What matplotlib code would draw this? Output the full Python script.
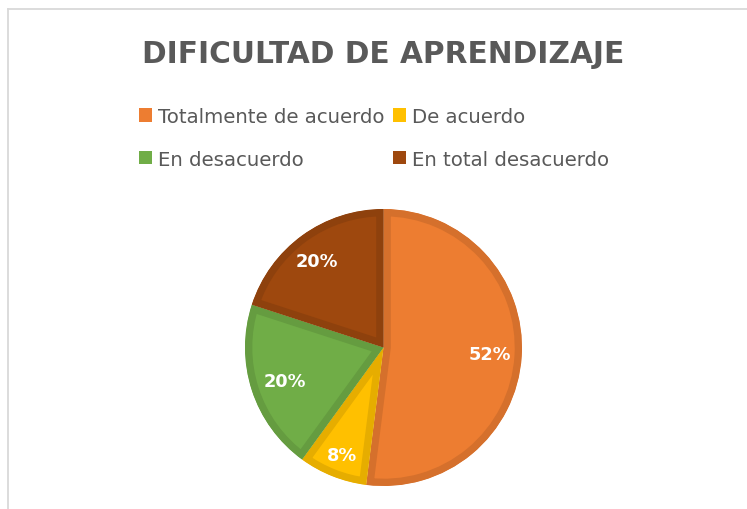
import matplotlib
matplotlib.use("Agg")
import matplotlib.pyplot as plt
from matplotlib.patches import Patch
from matplotlib.lines import Line2D
import numpy as np

title = "DIFICULTAD DE APRENDIZAJE"
categories = ["Totalmente de acuerdo", "De acuerdo", "En desacuerdo", "En total desacuerdo"]
values = [52, 8, 20, 20]
colors = ["#ED7D31", "#FFC000", "#70AD47", "#9E480E"]
edge_colors = ["#D5702C", "#E6AD00", "#659C40", "#8E410D"]

plt.rcParams['font.family'] = ['DejaVu Sans']

W, H = 747, 510
fig = plt.figure(figsize=(W / 100, H / 100), dpi=100)
fig.patch.set_facecolor("white")

# chart frame (top and left visible)
fig.add_artist(Line2D([7.5 / W, 7.5 / W], [0, 1 - 9.5 / H], transform=fig.transFigure,
                      color="#D9D9D9", lw=1.3))
fig.add_artist(Line2D([7.5 / W, 1.01], [1 - 9.5 / H, 1 - 9.5 / H], transform=fig.transFigure,
                      color="#D9D9D9", lw=1.3))

cx, cy, r = 383.5, 348.5, 138.5
ax = fig.add_axes([(cx - r) / W, (H - cy - r) / H, 2 * r / W, 2 * r / H])
wedges, texts, autotexts = ax.pie(
    values, colors=colors, startangle=90, counterclock=False, radius=1,
    autopct="%1.0f%%", pctdistance=0.77,
    textprops=dict(color="white", fontsize=12.8, fontweight="bold"))
for w, ec in zip(wedges, edge_colors):
    w.set_edgecolor(ec)
    w.set_linewidth(10.5)
    w.set_clip_on(True)
    w.set_clip_path(w)
ax.set_xlim(-1, 1)
ax.set_ylim(-1, 1)

# adjust label positions (Excel best-fit style)
label_pos = [(0.77, -3.5), (0.83, -111.0), (0.75, -161.0), (0.79, 127.6)]
for t, (d, a) in zip(autotexts, label_pos):
    t.set_position((d * np.cos(np.radians(a)), d * np.sin(np.radians(a))))

fig.text(383 / W, 1 - 63 / H, title, ha="center", va="baseline",
         fontsize=21.3, fontweight="bold", color="#595959")

handles = [Patch(facecolor=c, edgecolor="none") for c in colors]
order = [0, 2, 1, 3]
fig.legend([handles[i] for i in order], [categories[i] for i in order],
           ncol=2, loc="upper left", bbox_to_anchor=(139 / W, 1 - 108 / H),
           frameon=False, fontsize=14.2, labelcolor="#595959",
           handlelength=0.65, handleheight=0.65, handletextpad=0.3,
           columnspacing=0.45, labelspacing=1.2, borderpad=0, borderaxespad=0)

fig.savefig("out.png", dpi=100)
